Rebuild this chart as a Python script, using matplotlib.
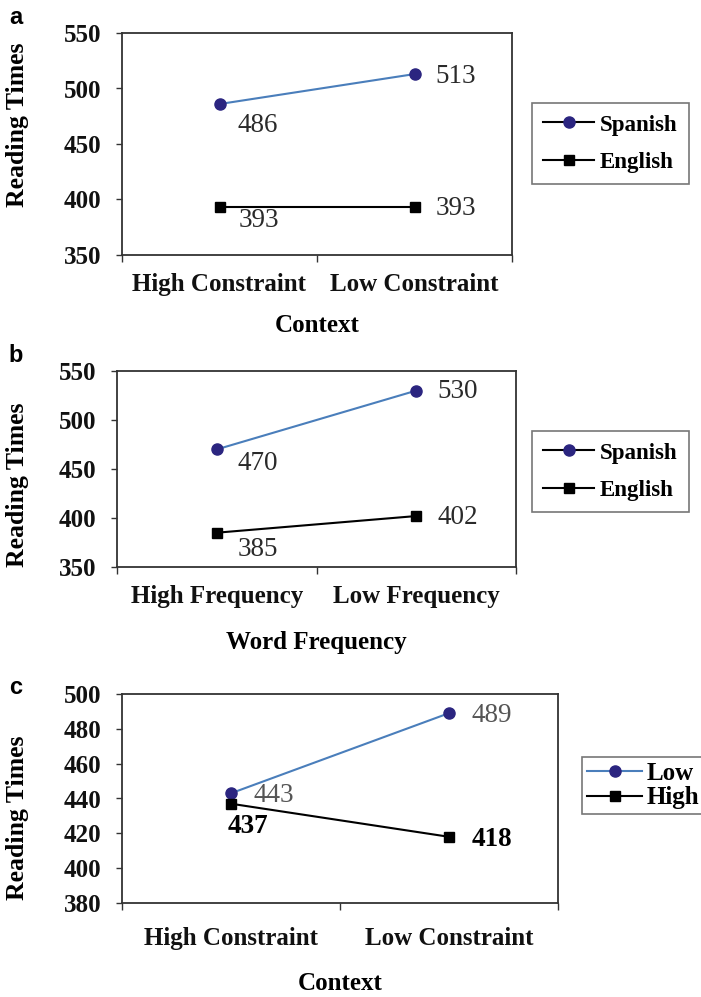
import matplotlib
matplotlib.use("Agg")
import matplotlib.pyplot as plt
from matplotlib.lines import Line2D

# données
ctx_labels = ["High Constraint", "Low Constraint"]
freq_labels = ["High Frequency", "Low Frequency"]

a_spanish = [486, 513]
a_english = [393, 393]

b_spanish = [470, 530]
b_english = [385, 402]

c_low = [443, 489]
c_high = [437, 418]

W, H = 701, 997
SERIF = "Liberation Serif"
BLUE_LINE = "#4a7ebb"
NAVY = "#2b2580"
EDGE = "#333333"

fig = plt.figure(figsize=(W / 100, H / 100), dpi=100)


def px_axes(left, top, right, bottom):
    return fig.add_axes([left / W, 1 - bottom / H, (right - left) / W, (bottom - top) / H])


def style_axes(ax, cats, ylim, yticks, xlabel, cat_pad, ylab_xy, xlab_xy):
    ax.set_xlim(0, 2)
    ax.set_ylim(*ylim)
    ax.set_yticks(yticks)
    ax.set_xticks([0, 1, 2])
    ax.set_xticklabels([])
    ax.set_xticks([0.5, 1.5], minor=True)
    ax.set_xticklabels(cats, minor=True)
    ax.tick_params(axis="x", which="major", direction="out", length=5, width=1, color=EDGE)
    ax.tick_params(axis="x", which="minor", length=0, pad=cat_pad)
    ax.tick_params(axis="y", direction="out", length=4, width=1, color=EDGE, pad=11)
    for lab in ax.get_xticklabels(minor=True) + ax.get_yticklabels():
        lab.set_fontfamily(SERIF)
        lab.set_fontweight("bold")
        lab.set_fontsize(18)
        lab.set_color("#111111")
    for sp in ax.spines.values():
        sp.set_color(EDGE)
        sp.set_linewidth(1.3)
    yl = ax.set_ylabel("Reading Times", family=SERIF, weight="bold", fontsize=18.5)
    yl.set_va("center")
    ax.yaxis.set_label_coords(*ylab_xy)
    xl = ax.set_xlabel(xlabel, family=SERIF, weight="bold", fontsize=18)
    xl.set_va("center")
    ax.xaxis.set_label_coords(*xlab_xy)


def label_points(ax, xs, ys, offsets, weight="normal", color="#2a2a2a"):
    for x, y, (dx, dy) in zip(xs, ys, offsets):
        ax.annotate(str(y), (x, y), xytext=(dx, dy), textcoords="offset pixels",
                    ha="left", va="center", family=SERIF, fontsize=19.5,
                    weight=weight, color=color)


xs = [0.5, 1.5]

# ---- a
ax_a = px_axes(122, 33, 512, 255)
ax_a.plot(xs, a_spanish, "-o", color=BLUE_LINE, lw=1.5, ms=8, mfc=NAVY, mec=NAVY)
ax_a.plot(xs, a_english, "-s", color="black", lw=1.5, ms=7)
label_points(ax_a, xs, a_spanish, [(18, -21), (21, -2)])
label_points(ax_a, xs, a_english, [(19, -13), (21, -1)])
style_axes(ax_a, ctx_labels, (350, 550), [350, 400, 450, 500, 550], "Context",
           cat_pad=13, ylab_xy=(-104 / 390, 0.585), xlab_xy=(0.5, -(326 - 255) / 222))

# ---- b
ax_b = px_axes(117, 371, 516, 567)
ax_b.plot(xs, b_spanish, "-o", color=BLUE_LINE, lw=1.5, ms=8, mfc=NAVY, mec=NAVY)
ax_b.plot(xs, b_english, "-s", color="black", lw=1.5, ms=7)
label_points(ax_b, xs, b_spanish, [(21, -14), (21, -1)])
label_points(ax_b, xs, b_english, [(21, -17), (21, -1)])
style_axes(ax_b, freq_labels, (350, 550), [350, 400, 450, 500, 550], "Word Frequency",
           cat_pad=13, ylab_xy=(-99 / 399, 0.418), xlab_xy=(0.5, -(642 - 567) / 196))

# ---- c
ax_c = px_axes(122, 694, 558, 903)
ax_c.plot(xs, c_low, "-o", color=BLUE_LINE, lw=1.5, ms=8, mfc=NAVY, mec=NAVY)
ax_c.plot(xs, c_high, "-s", color="black", lw=1.5, ms=7)
label_points(ax_c, xs, c_low, [(22, -2), (23, -2)], color="#555555")
label_points(ax_c, xs, c_high, [(-3, -23), (23, -3)], weight="bold", color="black")
style_axes(ax_c, ctx_labels, (380, 500), [380, 400, 420, 440, 460, 480, 500], "Context",
           cat_pad=17, ylab_xy=(-104 / 436, 0.41), xlab_xy=(0.5, -(983 - 903) / 209))

# légendes
for ax, top in [(ax_a, 103), (ax_b, 431)]:
    hs = [Line2D([], [], color="black", lw=1.5, marker="o", ms=8, mfc=NAVY, mec=NAVY),
          Line2D([], [], color="black", lw=1.5, marker="s", ms=7)]
    leg = ax.legend(hs, ["Spanish", "English"], loc="upper left",
                    bbox_to_anchor=(532 / W, 1 - top / H),
                    bbox_transform=fig.transFigure, borderaxespad=0, fancybox=False,
                    frameon=True, handlelength=2.2, handletextpad=0.25, labelspacing=0.7,
                    borderpad=0.5, prop={"family": SERIF, "weight": "bold", "size": 16.5})
    leg.get_frame().set_edgecolor("#555555")
    leg.get_frame().set_linewidth(1.2)

hs = [Line2D([], [], color=BLUE_LINE, lw=1.5, marker="o", ms=8, mfc=NAVY, mec=NAVY),
      Line2D([], [], color="black", lw=1.5, marker="s", ms=7)]
leg = ax_c.legend(hs, ["Low", "High"], loc="upper left", bbox_to_anchor=(582 / W, 1 - 757 / H),
                  bbox_transform=fig.transFigure, borderaxespad=0, fancybox=False,
                  frameon=True, handlelength=2.2, handletextpad=0.2, labelspacing=0.05,
                  borderpad=0.2, prop={"family": SERIF, "weight": "bold", "size": 18})
leg.get_frame().set_edgecolor("#555555")
leg.get_frame().set_linewidth(1.2)

# lettres des panneaux
for letter, y in [("a", 18), ("b", 355), ("c", 688)]:
    fig.text(16 / W, 1 - y / H, letter, ha="center", va="center",
             family="Liberation Sans", weight="bold", fontsize=17)

fig.savefig("out.png", dpi=100)
